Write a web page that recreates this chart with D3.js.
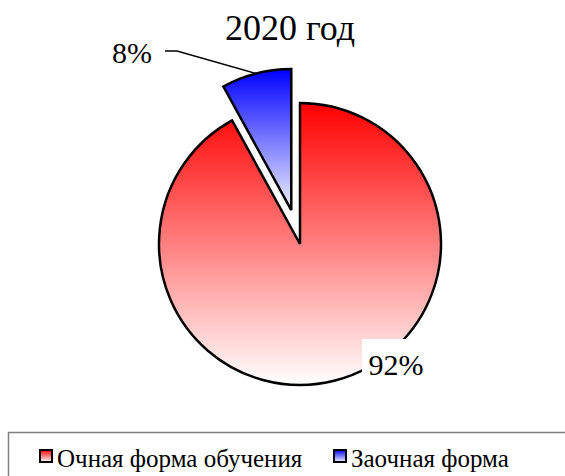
<!DOCTYPE html>
<html>
<head>
<meta charset="utf-8">
<script src="https://cdn.jsdelivr.net/npm/d3@7"></script>
</head>
<body style="margin:0">
<script>
// chart data
var title = "2020 год";
var categories = ["Очная форма обучения", "Заочная форма"];
var shares = [92, 8];
var topColors = ["#ff0000", "#0000ff"];
var bottomColors = ["#ffffff", "#f2f2ff"];
var fontNames = ["Liberation Serif", "Times New Roman"];

(function(){
    var width = 565, height = 476;
    var cx = 300, cy = 244, radius = 141;
    var explode = [0, 35];
    var serif = fontNames.map(function(f){ return '"' + f + '"'; }).join(", ");

    var svg = d3.select("body")
        .append("svg")
        .attr("width", width)
        .attr("height", height);

    var defs = svg.append("defs");
    categories.forEach(function(c, i){
        var g = defs.append("linearGradient")
            .attr("id", "grad" + i)
            .attr("x1", 0).attr("y1", 0)
            .attr("x2", 0).attr("y2", 1);
        g.append("stop").attr("offset", "0%").attr("stop-color", topColors[i]);
        g.append("stop").attr("offset", "100%").attr("stop-color", bottomColors[i]);
    });

    //title
    svg.append("text")
        .attr("x", 290)
        .attr("y", 40)
        .attr("text-anchor", "middle")
        .attr("font-size", 36)
        .style("font-family", function(){ return serif; })
        .text(title);

    var pie = d3.pie().sort(null).value(function(d){ return d; });
    var arcs = pie(shares);
    var arc = d3.arc().innerRadius(0).outerRadius(radius);

    var chart = svg.append("g").attr("transform", "translate(" + cx + "," + cy + ")");

    function shift(d, i){
        var a = (d.startAngle + d.endAngle) / 2;
        return [Math.sin(a) * explode[i], -Math.cos(a) * explode[i]];
    }

    chart.selectAll("path.slice")
        .data(arcs)
        .enter()
        .append("path")
        .attr("class", "slice")
        .attr("d", arc)
        .attr("transform", function(d, i){ var s = shift(d, i); return "translate(" + s[0] + "," + s[1] + ")"; })
        .attr("fill", function(d, i){ return "url(#grad" + i + ")"; })
        .attr("stroke", "#000")
        .attr("stroke-width", 2.5)
        .attr("stroke-linejoin", "miter");

    //labels
    var fmt = function(v){ return v + "%"; };

    // big slice label, sits on the rim with a white box behind it
    var bigLabel = chart.append("g").attr("transform", "translate(96,131)");
    bigLabel.append("rect")
        .attr("x", -34).attr("y", -36)
        .attr("width", 68).attr("height", 44)
        .attr("fill", "#fff");
    bigLabel.append("text")
        .attr("text-anchor", "middle")
        .attr("font-size", 30)
        .style("font-family", function(){ return serif; })
        .text(fmt(shares[0]));

    // small slice label with leader line
    var small = arcs[1], s = shift(small, 1);
    var mid = (small.startAngle + small.endAngle) / 2;
    var tipX = s[0] + Math.sin(mid) * radius,
        tipY = s[1] - Math.cos(mid) * radius;
    var elbowX = 177 - cx, elbowY = 51 - cy;
    chart.append("polyline")
        .attr("points", [[elbowX - 12, elbowY], [elbowX, elbowY], [tipX, tipY]].join(" "))
        .attr("fill", "none")
        .attr("stroke", "#000")
        .attr("stroke-width", 1.5);
    chart.append("text")
        .attr("x", elbowX - 25)
        .attr("y", elbowY + 12)
        .attr("text-anchor", "end")
        .attr("font-size", 30)
        .style("font-family", function(){ return serif; })
        .text(fmt(shares[1]));

    //legend
    var legend = svg.append("g");
    legend.append("rect")
        .attr("x", 8.5).attr("y", 432.5)
        .attr("width", 570).attr("height", 60)
        .attr("fill", "#fff")
        .attr("stroke", "#808080")
        .attr("stroke-width", 1.5);

    var legendX = d3.scaleOrdinal().domain(categories).range([40, 334]);
    var items = legend.selectAll("g.item")
        .data(categories)
        .enter()
        .append("g")
        .attr("class", "item")
        .attr("transform", function(d){ return "translate(" + legendX(d) + ",450)"; });
    items.append("rect")
        .attr("width", 12).attr("height", 12)
        .attr("fill", function(d, i){ return "url(#grad" + i + ")"; })
        .attr("stroke", "#000")
        .attr("stroke-width", 2);
    items.append("text")
        .attr("x", 17)
        .attr("y", 17)
        .attr("font-size", 25)
        .style("font-family", function(){ return serif; })
        .text(function(d){ return d; });
})();
</script>
</body>
</html>
